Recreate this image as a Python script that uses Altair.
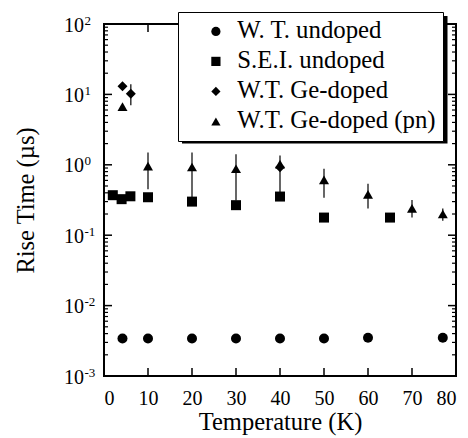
import altair as alt
import pandas as pd

# ---------------- data ----------------
series_names = ["W. T. undoped", "S.E.I. undoped", "W.T. Ge-doped", "W.T. Ge-doped (pn)"]
series_shapes = ["circle", "square", "diamond", "triangle-up"]

wt_T = [4.2, 10, 20, 30, 40, 50, 60, 77]
wt_v = [0.0034, 0.0034, 0.0034, 0.0034, 0.0034, 0.0034, 0.0035, 0.0035]

sei_T = [2, 4, 6, 10, 20, 30, 40, 50, 65]
sei_v = [0.37, 0.325, 0.357, 0.346, 0.30, 0.267, 0.354, 0.178, 0.178]

ge_T = [4.2, 6.1, 40]
ge_v = [13.1, 10.2, 0.92]
ge_lo = [None, 7.0, None]
ge_hi = [None, 13.9, None]

pn_T = [4.2, 10, 20, 30, 40, 50, 60, 70, 77]
pn_v = [6.7, 0.96, 0.93, 0.88, 1.02, 0.61, 0.38, 0.24, 0.20]
pn_lo = [None, 0.45, 0.34, 0.31, 0.41, 0.34, 0.24, 0.178, 0.16]
pn_hi = [None, 1.49, 1.49, 1.41, 1.36, 0.88, 0.54, 0.317, 0.24]

x_tick_values = [0, 10, 20, 30, 40, 50, 60, 70, 80]
x_inner_ticks = [10, 20, 30, 40, 50, 60, 70]
y_decades = [0.001, 0.01, 0.1, 1, 10, 100]
y_exponents = ["-3", "-2", "-1", "0", "1", "2"]
y_minor_mult = [2, 3, 4, 5, 6, 7, 8, 9]

# ---------------- tables ----------------
rows = []
for name, T, v, lo, hi in [
    (series_names[0], wt_T, wt_v, [None] * len(wt_T), [None] * len(wt_T)),
    (series_names[1], sei_T, sei_v, [None] * len(sei_T), [None] * len(sei_T)),
    (series_names[2], ge_T, ge_v, ge_lo, ge_hi),
    (series_names[3], pn_T, pn_v, pn_lo, pn_hi),
]:
    for a, b, c, d in zip(T, v, lo, hi):
        rows.append({"series": name, "T": a, "v": b, "lo": c, "hi": d})
df = pd.DataFrame(rows)
err = df.dropna(subset=["lo", "hi"])

xt = pd.DataFrame({"t": x_inner_ticks})
ymaj = pd.DataFrame({"y": y_decades, "base": ["10"] * len(y_decades), "exp": y_exponents})
ymin = pd.DataFrame({"y": [m * d for d in y_decades[:-1] for m in y_minor_mult]})

W, H = 352, 352
FONT = "Liberation Serif"

xscale = alt.Scale(domain=[0, 80], nice=False, zero=False)
yscale = alt.Scale(type="log", domain=[0.001, 100], nice=False)
shape_scale = alt.Scale(domain=series_names, range=series_shapes)

legend = alt.Legend(title=None, orient="none", legendX=74, legendY=-12, zindex=1,
                    fillColor="white", strokeColor="black", padding=7,
                    symbolOffset=18.5, labelOffset=9, rowPadding=4,
                    symbolSize=85, symbolFillColor="black", symbolStrokeColor="black",
                    labelFont=FONT, labelFontSize=24.8, labelColor="black", labelLimit=400)

points = alt.Chart(df).mark_point(filled=True, opacity=1, size=100).encode(
    x=alt.X("T:Q", scale=xscale,
            axis=alt.Axis(values=x_tick_values, title="Temperature (K)", ticks=False, domain=False,
                          grid=False, labelPadding=12, titleY=53, titleBaseline="alphabetic")),
    y=alt.Y("v:Q", scale=yscale,
            axis=alt.Axis(values=y_decades, labels=False, title="Rise Time (µs)", ticks=False,
                          domain=False, grid=False, titleX=-71, titleY=H / 2,
                          titleBaseline="alphabetic", titleAngle=-90)),
    shape=alt.Shape("series:N", scale=shape_scale, legend=legend),
    color=alt.value("black"),
)

errbars = alt.Chart(err).mark_rule(color="black", strokeWidth=1.2).encode(
    x=alt.X("T:Q", scale=xscale), y=alt.Y("lo:Q", scale=yscale), y2="hi:Q")

tb = alt.Chart(xt).mark_rule(color="black", strokeWidth=1.5).encode(
    x=alt.X("t:Q", scale=xscale), y=alt.value(H), y2=alt.value(H - 8))
tt = alt.Chart(xt).mark_rule(color="black", strokeWidth=1.5).encode(
    x=alt.X("t:Q", scale=xscale), y=alt.value(0), y2=alt.value(8))
tl = alt.Chart(ymaj).mark_rule(color="black", strokeWidth=1.5).encode(
    y=alt.Y("y:Q", scale=yscale), x=alt.value(0), x2=alt.value(8))
tr = alt.Chart(ymaj).mark_rule(color="black", strokeWidth=1.5).encode(
    y=alt.Y("y:Q", scale=yscale), x=alt.value(W), x2=alt.value(W - 8))
tlm = alt.Chart(ymin).mark_rule(color="black", strokeWidth=1.2).encode(
    y=alt.Y("y:Q", scale=yscale), x=alt.value(0), x2=alt.value(4))
trm = alt.Chart(ymin).mark_rule(color="black", strokeWidth=1.2).encode(
    y=alt.Y("y:Q", scale=yscale), x=alt.value(W), x2=alt.value(W - 4))

ybase = alt.Chart(ymaj).mark_text(align="right", baseline="middle", font=FONT, fontSize=20,
                                  color="black", dy=1.5).encode(
    y=alt.Y("y:Q", scale=yscale), x=alt.value(-20), text="base:N")
yexp = alt.Chart(ymaj).mark_text(align="left", baseline="middle", font=FONT, fontSize=13,
                                 color="black", dy=-3.5).encode(
    y=alt.Y("y:Q", scale=yscale), x=alt.value(-19.5), text="exp:N")

# drop shadow behind the legend box (legend box is drawn on top of it)
shadow = alt.Chart(pd.DataFrame({"k": [0]})).mark_rect(color="black").encode(
    x=alt.value(78), x2=alt.value(343.5), y=alt.value(-8), y2=alt.value(119.5))

chart = alt.layer(tb, tt, tl, tr, tlm, trm, ybase, yexp, errbars, shadow, points).properties(
    width=W, height=H,
    autosize=alt.AutoSizeParams(type="none"),
    padding={"left": 96, "top": 16, "right": 4, "bottom": 62},
    background="white",
).configure_view(stroke="black", strokeWidth=2).configure_axis(
    labelFont=FONT, labelFontSize=20, labelColor="black",
    titleFont=FONT, titleFontSize=24.5, titleColor="black", titleFontWeight="normal",
)

chart.save("out.html", embed_options={"renderer": "svg", "actions": False})
